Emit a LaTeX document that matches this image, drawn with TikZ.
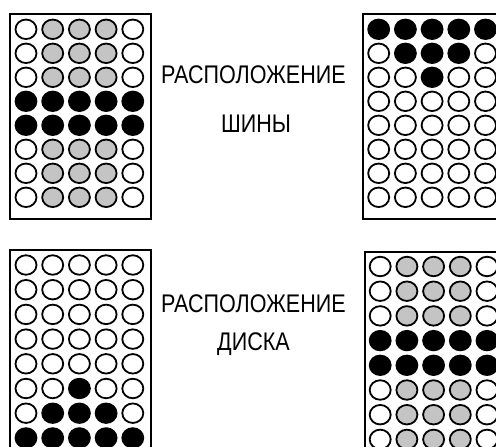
\documentclass[tikz,border=0pt]{standalone}
\usepackage{fontspec}
\setmainfont{Liberation Sans}
\usepackage{graphicx}
\usepackage{tikz}
\usetikzlibrary{shapes.geometric}
\definecolor{ink}{HTML}{000000}
\definecolor{fog}{HTML}{C4C4C4}
\tikzset{
  panel/.style={draw=ink,line width=2pt,fill=white,inner sep=0pt,anchor=north west,minimum width=141pt,minimum height=205pt},
  dot/.style={ellipse,draw=ink,line width=1.8pt,fill=#1,minimum width=21pt,minimum height=19.5pt,inner sep=0pt},
  caption/.style={font=\fontsize{25.5}{28}\selectfont,inner sep=0pt,anchor=base}
}
% #1 name, #2/#3 top left corner, #4 row pitch, #5 rows of tones
\newcommand\padgrid[5]{%
  \node[panel] (#1) at (#2,#3) {};
  \foreach \row [count=\r] in {#5} {
    \foreach \tone [count=\c] in \row {
      \node[dot=\tone] (#1-\r-\c) at ({#2+16.7+(\c-1)*26.7},{#3+16+(\r-1)*#4}) {};
    }
  }
}
\begin{document}
\begin{tikzpicture}[x=1pt,y=-1pt]
\useasboundingbox (0,0) rectangle (496,447);
\clip (0,0) rectangle (496,447);

% tyre: spread, then wedge at the top
\padgrid{tyreA}{9.3}{13.3}{24}{
  {white,fog,fog,fog,white},{white,fog,fog,fog,white},{white,fog,fog,fog,white},
  {ink,ink,ink,ink,ink},{ink,ink,ink,ink,ink},
  {white,fog,fog,fog,white},{white,fog,fog,fog,white},{white,fog,fog,fog,white}}
\padgrid{tyreB}{362}{13.3}{24}{
  {ink,ink,ink,ink,ink},{white,ink,ink,ink,white},{white,white,ink,white,white},
  {white,white,white,white,white},{white,white,white,white,white},
  {white,white,white,white,white},{white,white,white,white,white},{white,white,white,white,white}}

\node[caption] (tyre1) at (253.5,83.3) {\scalebox{0.845}[1]{РАСПОЛОЖЕНИЕ}};
\node[caption] (tyre2) at (256,132) {\scalebox{0.845}[1]{ШИНЫ}};

% disc: wedge at the bottom, then spread
\padgrid{discA}{9.3}{249}{24.7}{
  {white,white,white,white,white},{white,white,white,white,white},
  {white,white,white,white,white},{white,white,white,white,white},{white,white,white,white,white},
  {white,white,ink,white,white},{white,ink,ink,ink,white},{ink,ink,ink,ink,ink}}
\padgrid{discB}{363.5}{250.5}{24.7}{
  {white,fog,fog,fog,white},{white,fog,fog,fog,white},{white,fog,fog,fog,white},
  {ink,ink,ink,ink,ink},{ink,ink,ink,ink,ink},
  {white,fog,fog,fog,white},{white,fog,fog,fog,white},{white,fog,fog,fog,white}}

\node[caption] (disc1) at (253.5,312) {\scalebox{0.845}[1]{РАСПОЛОЖЕНИЕ}};
\node[caption] (disc2) at (253.5,350) {\scalebox{0.845}[1]{ДИСКА}};
\end{tikzpicture}
\end{document}
